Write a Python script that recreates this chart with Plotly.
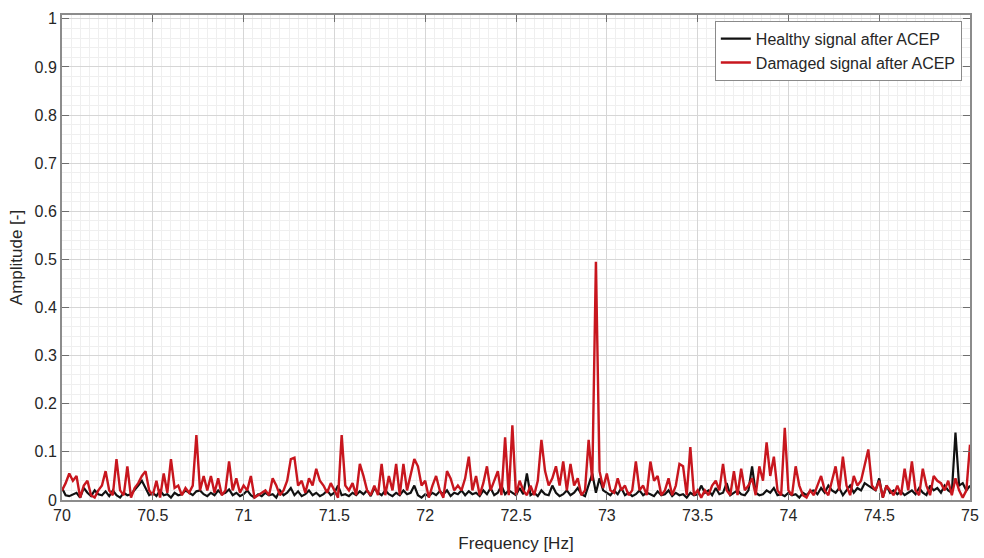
import numpy as np
import plotly.graph_objects as go

freq_start = 70.0
freq_step = 0.02

damaged = [
    0.02, 0.035, 0.055, 0.04, 0.05, 0.005, 0.03, 0.04, 0.01, 0.005,
    0.02, 0.03, 0.06, 0.02, 0.01, 0.085, 0.02, 0.01, 0.07, 0.005,
    0.025, 0.035, 0.05, 0.06, 0.02,
    0.01, 0.04, 0.005, 0.055, 0.015, 0.085, 0.025, 0.03, 0.01, 0.025,
    0.015, 0.03, 0.135, 0.02, 0.05, 0.02, 0.05, 0.015, 0.045, 0.01,
    0.02, 0.08, 0.02, 0.045, 0.015,
    0.03, 0.02, 0.05, 0.005, 0.01, 0.015, 0.02, 0.01, 0.045, 0.03,
    0.01, 0.02, 0.04, 0.085, 0.088, 0.03, 0.04, 0.015, 0.045, 0.03,
    0.065, 0.04, 0.03, 0.015, 0.035,
    0.02, 0.005, 0.135, 0.03, 0.02, 0.035, 0.01, 0.075, 0.05, 0.02,
    0.01, 0.03, 0.01, 0.075, 0.01, 0.05, 0.02, 0.075, 0.01, 0.075,
    0.02, 0.055, 0.085, 0.07, 0.03,
    0.04, 0.005, 0.03, 0.05, 0.02, 0.005, 0.06, 0.045, 0.02, 0.03,
    0.02, 0.045, 0.09, 0.02, 0.05, 0.01, 0.035, 0.07, 0.02, 0.04,
    0.06, 0.01, 0.13, 0.01, 0.155,
    0.01, 0.04, 0.02, 0.01, 0.03, 0.01, 0.04, 0.125, 0.06, 0.03,
    0.045, 0.07, 0.03, 0.08, 0.02, 0.075, 0.03, 0.045, 0.01, 0.02,
    0.125, 0.04, 0.495, 0.06, 0.025,
    0.055, 0.02, 0.015, 0.045, 0.02, 0.03, 0.01, 0.02, 0.08, 0.02,
    0.03, 0.01, 0.08, 0.04, 0.05, 0.01, 0.02, 0.045, 0.01, 0.03,
    0.075, 0.07, 0.01, 0.11, 0.01,
    0.02, 0.005, 0.02, 0.01, 0.03, 0.04, 0.02, 0.075, 0.02, 0.01,
    0.06, 0.01, 0.065, 0.02, 0.03, 0.045, 0.01, 0.07, 0.04, 0.12,
    0.05, 0.09, 0.02, 0.01, 0.15,
    0.02, 0.01, 0.07, 0.03, 0.01, 0.005, 0.02, 0.01, 0.03, 0.05,
    0.02, 0.01, 0.04, 0.07, 0.02, 0.09, 0.03, 0.01, 0.05, 0.03,
    0.04, 0.07, 0.105, 0.03, 0.02,
    0.04, 0.005, 0.03, 0.02, 0.01, 0.03, 0.01, 0.065, 0.02, 0.08,
    0.02, 0.01, 0.065, 0.03, 0.01, 0.05, 0.04, 0.035, 0.02, 0.04,
    0.01, 0.045, 0.02, 0.005, 0.02, 0.115,
]

healthy = [
    0.025, 0.01, 0.008, 0.012, 0.015, 0.005, 0.025, 0.015, 0.008, 0.02,
    0.012, 0.01, 0.018, 0.008, 0.02, 0.01, 0.005, 0.015, 0.01, 0.012,
    0.02, 0.03, 0.04, 0.025, 0.01,
    0.015, 0.008, 0.02, 0.01, 0.012, 0.005, 0.015, 0.01, 0.012, 0.02,
    0.015, 0.01, 0.018, 0.02, 0.012, 0.008, 0.015, 0.01, 0.02, 0.012,
    0.015, 0.022, 0.01, 0.015, 0.008,
    0.012, 0.02, 0.01, 0.005, 0.012, 0.008, 0.015, 0.01, 0.012, 0.005,
    0.02, 0.01, 0.015, 0.025, 0.01, 0.018, 0.008, 0.012, 0.02, 0.01,
    0.015, 0.008, 0.012, 0.02, 0.01,
    0.015, 0.03, 0.01, 0.012, 0.008, 0.015, 0.01, 0.018, 0.012, 0.02,
    0.008, 0.025, 0.015, 0.01, 0.02, 0.012, 0.008, 0.015, 0.01, 0.02,
    0.012, 0.015, 0.03, 0.01, 0.005,
    0.012, 0.008, 0.015, 0.01, 0.018, 0.012, 0.02, 0.008, 0.015, 0.012,
    0.02, 0.01, 0.018, 0.012, 0.015, 0.008, 0.02, 0.012, 0.025, 0.01,
    0.015, 0.03, 0.012, 0.02, 0.015,
    0.01, 0.025, 0.012, 0.055, 0.01, 0.015, 0.008, 0.02, 0.012, 0.01,
    0.03, 0.015, 0.008, 0.012, 0.02, 0.01, 0.015, 0.025, 0.012, 0.008,
    0.03, 0.055, 0.015, 0.045, 0.02,
    0.015, 0.01, 0.02, 0.012, 0.025, 0.01, 0.015, 0.008, 0.012, 0.02,
    0.01, 0.015, 0.012, 0.008, 0.018, 0.01, 0.012, 0.02, 0.008, 0.015,
    0.01, 0.012, 0.005, 0.015, 0.01,
    0.012, 0.03, 0.015, 0.02, 0.01, 0.025, 0.012, 0.015, 0.035, 0.01,
    0.015, 0.02, 0.012, 0.01, 0.02, 0.07, 0.015, 0.01, 0.012, 0.02,
    0.015, 0.025, 0.01, 0.012, 0.008,
    0.015, 0.01, 0.012, 0.005, 0.015, 0.01, 0.018, 0.02, 0.012, 0.025,
    0.015, 0.03, 0.02, 0.015, 0.025, 0.01, 0.02, 0.03, 0.015, 0.025,
    0.02, 0.035, 0.03, 0.025, 0.02,
    0.045, 0.005, 0.03, 0.015, 0.02, 0.012, 0.018, 0.01, 0.015, 0.02,
    0.012, 0.025, 0.015, 0.01, 0.03, 0.02, 0.025, 0.015, 0.03, 0.02,
    0.015, 0.14, 0.03, 0.035, 0.02, 0.03,
]

x_ticks = [70, 70.5, 71, 71.5, 72, 72.5, 73, 73.5, 74, 74.5, 75]
x_tick_labels = ["70", "70.5", "71", "71.5", "72", "72.5", "73", "73.5", "74", "74.5", "75"]
y_ticks = [0, 0.1, 0.2, 0.3, 0.4, 0.5, 0.6, 0.7, 0.8, 0.9, 1]
y_tick_labels = ["0", "0.1", "0.2", "0.3", "0.4", "0.5", "0.6", "0.7", "0.8", "0.9", "1"]

freq_h = freq_start + freq_step * np.arange(len(healthy))
freq_d = freq_start + freq_step * np.arange(len(damaged))

FONT = "Liberation Sans, Arial, Helvetica, sans-serif"
TXT = "#262626"

fig = go.Figure()
fig.add_trace(go.Scatter(x=freq_h, y=healthy, mode="lines",
                         name="Healthy signal after ACEP",
                         line=dict(color="#111111", width=2.2)))
fig.add_trace(go.Scatter(x=freq_d, y=damaged, mode="lines",
                         name="Damaged signal after ACEP",
                         line=dict(color="#c8161e", width=2.4)))

axis_common = dict(
    showline=True, linecolor="#8c8c8c", linewidth=2, mirror="ticks",
    ticks="inside", ticklen=7, tickcolor="#6e6e6e", tickwidth=1,
    showgrid=True, gridcolor="#d6d6d6", gridwidth=1,
    zeroline=False, automargin=False,
    tickfont=dict(family=FONT, size=16, color=TXT),
)

fig.update_xaxes(
    range=[70, 75], tickvals=x_ticks, ticktext=x_tick_labels,
    minor=dict(dtick=0.05, showgrid=True, gridcolor="#efefef", gridwidth=1, ticks=""),
    title=dict(text="Frequency [Hz]", font=dict(family=FONT, size=17, color=TXT), standoff=14),
    **axis_common,
)
fig.update_yaxes(
    range=[0, 1.008], tickvals=y_ticks, ticktext=y_tick_labels,
    minor=dict(dtick=0.02, showgrid=True, gridcolor="#efefef", gridwidth=1, ticks=""),
    title=dict(text="Amplitude [-]", font=dict(family=FONT, size=17, color=TXT), standoff=8),
    **axis_common,
)

fig.update_layout(
    width=984, height=558,
    margin=dict(l=62, r=14, t=15, b=58),
    paper_bgcolor="white", plot_bgcolor="white",
    font=dict(family=FONT, size=16, color=TXT),
    showlegend=True,
    legend=dict(
        x=0.991, y=0.988, xanchor="right", yanchor="top",
        bgcolor="white", bordercolor="#8a8a8a", borderwidth=1,
        font=dict(family=FONT, size=16, color=TXT),
        tracegroupgap=0, itemwidth=30,
    ),
)

fig.write_html("out.html")
